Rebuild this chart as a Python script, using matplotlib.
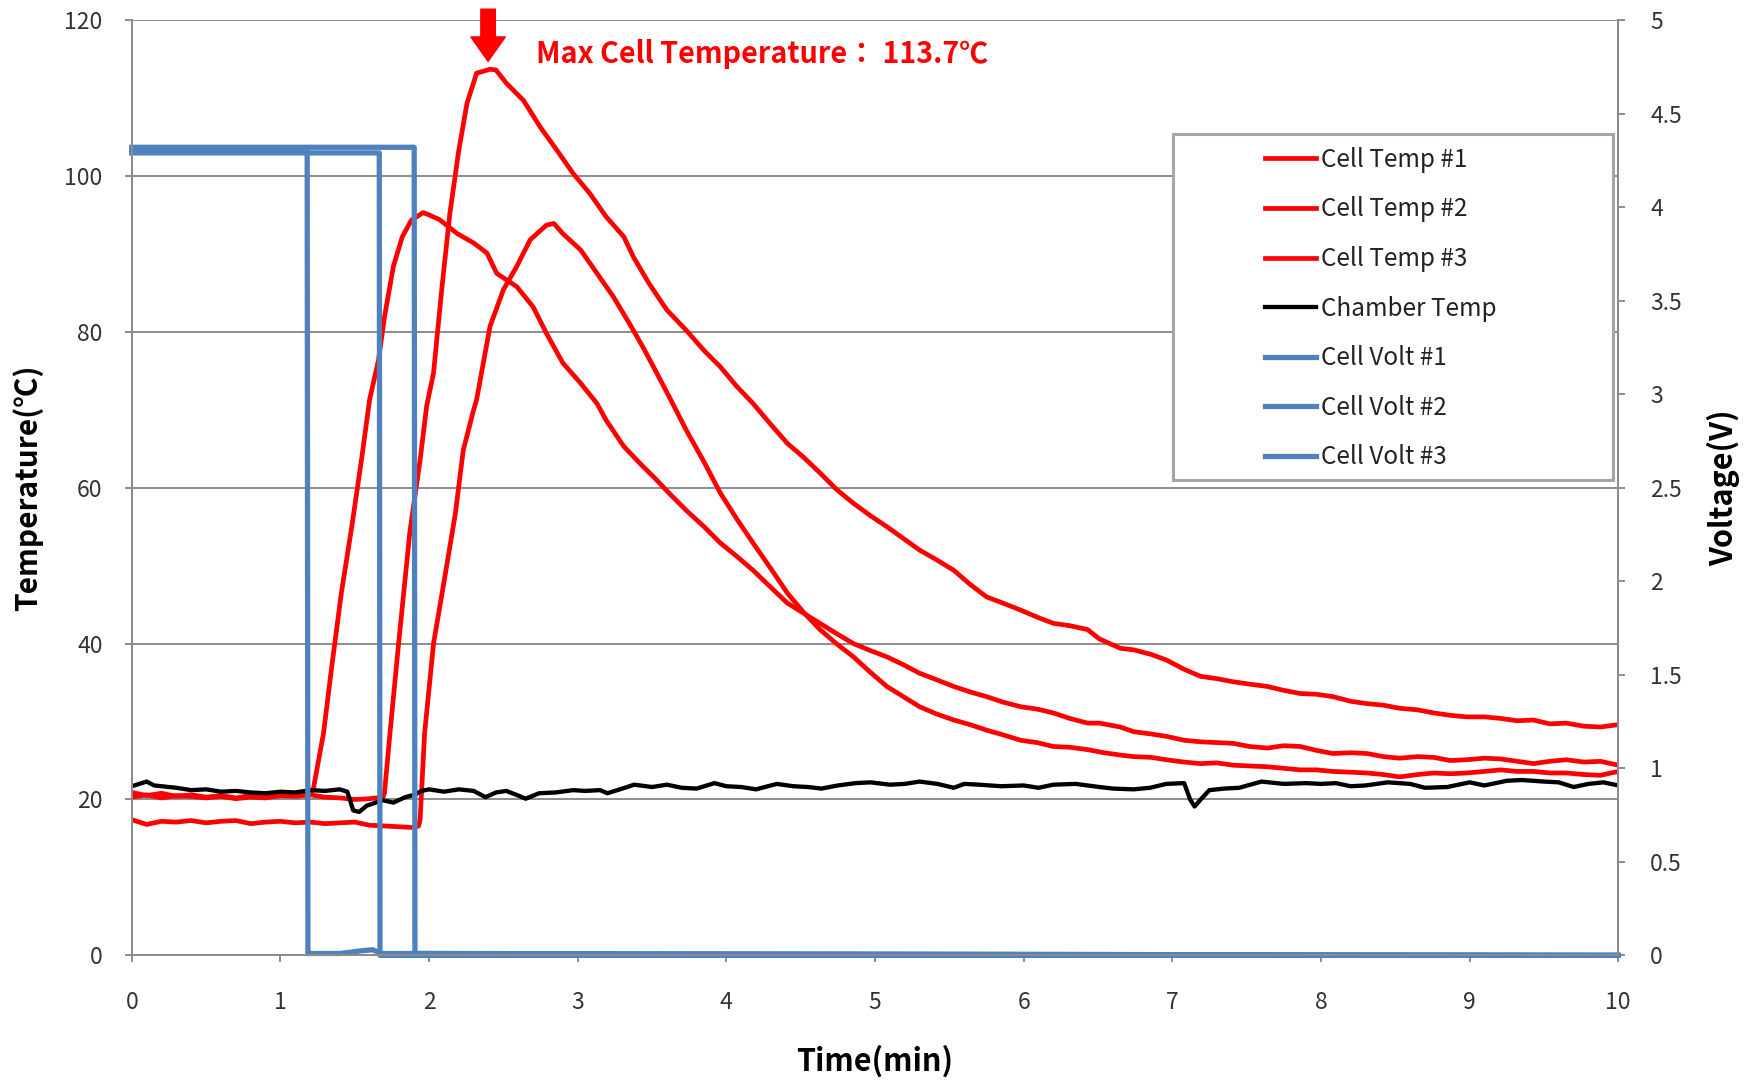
import matplotlib
matplotlib.use('Agg')
import matplotlib.pyplot as plt
from matplotlib.patches import Rectangle
from matplotlib.ticker import FuncFormatter

plt.rcParams['font.family'] = ['Noto Sans CJK KR', 'DejaVu Sans']

# ---- data (time in min, temperature in degC, voltage in V) ----
t_cell1 = [0, 0.1, 0.2, 0.3, 0.4, 0.5, 0.6, 0.7, 0.8, 0.9, 1.0, 1.1, 1.2,
           1.22, 1.29, 1.345, 1.41, 1.48, 1.547, 1.60, 1.66, 1.70, 1.76, 1.82, 1.88, 1.96,
           2.0, 2.07, 2.19, 2.30, 2.39, 2.455, 2.59, 2.70, 2.79, 2.90, 3.02, 3.13, 3.19,
           3.31, 3.42, 3.51, 3.62, 3.73, 3.85, 3.96, 4.07, 4.18, 4.30, 4.41, 4.52, 4.63,
           4.74, 4.855, 4.97, 5.08, 5.19, 5.30, 5.41, 5.53, 5.64, 5.75, 5.86, 5.98, 6.09,
           6.20, 6.31, 6.43, 6.51, 6.65, 6.74, 6.86, 6.96, 7.08, 7.19, 7.30, 7.41, 7.52,
           7.64, 7.75, 7.86, 7.97, 8.08, 8.20, 8.31, 8.42, 8.53, 8.65, 8.76, 8.87, 8.98,
           9.10, 9.21, 9.32, 9.43, 9.54, 9.65, 9.77, 9.88, 10.0]
cell1 = [20.9, 20.5, 20.8, 20.4, 20.6, 20.3, 20.5, 20.2, 20.5, 20.4, 20.6, 20.8, 20.9,
         21.2, 28.5, 37.0, 46.5, 55.0, 63.8, 71.3, 76.4, 81.9, 88.4, 92.2, 94.3, 95.3,
         95.0, 94.4, 92.6, 91.4, 90.1, 87.5, 85.8, 83.2, 79.8, 76.0, 73.4, 70.8, 68.7,
         65.3, 63.1, 61.4, 59.2, 57.1, 55.0, 52.9, 51.2, 49.4, 47.2, 45.2, 43.9, 42.6,
         41.3, 40.0, 39.1, 38.3, 37.3, 36.2, 35.4, 34.5, 33.8, 33.2, 32.5, 31.9, 31.6,
         31.1, 30.4, 29.8, 29.8, 29.3, 28.7, 28.4, 28.1, 27.6, 27.4, 27.3, 27.2, 26.8,
         26.6, 26.9, 26.8, 26.3, 25.9, 26.0, 25.9, 25.5, 25.3, 25.5, 25.4, 25.0, 25.1,
         25.3, 25.2, 24.9, 24.6, 24.9, 25.1, 24.8, 24.9, 24.4]

t_cell2 = [0, 0.1, 0.2, 0.3, 0.4, 0.5, 0.6, 0.7, 0.8, 0.9, 1.0, 1.1, 1.2, 1.3, 1.4, 1.5,
           1.6, 1.69, 1.70, 1.737, 1.793, 1.87, 1.94, 1.984, 2.03, 2.085, 2.14, 2.20,
           2.255, 2.32, 2.36, 2.41, 2.45, 2.52, 2.635, 2.747, 2.86, 2.97, 3.08, 3.19,
           3.31, 3.375, 3.48, 3.60, 3.73, 3.85, 3.96, 4.07, 4.18, 4.30, 4.41, 4.52, 4.63,
           4.74, 4.855, 4.97, 5.08, 5.19, 5.30, 5.41, 5.53, 5.64, 5.75, 5.86, 5.98, 6.09,
           6.20, 6.31, 6.43, 6.51, 6.65, 6.74, 6.86, 6.96, 7.08, 7.19, 7.30, 7.41, 7.52,
           7.64, 7.75, 7.86, 7.97, 8.08, 8.20, 8.31, 8.42, 8.53, 8.65, 8.76, 8.87, 8.98,
           9.10, 9.21, 9.32, 9.43, 9.54, 9.65, 9.77, 9.88, 10.0]
cell2 = [20.3, 20.6, 20.2, 20.5, 20.4, 20.2, 20.4, 20.1, 20.3, 20.2, 20.5, 20.4, 20.6,
         20.3, 20.2, 20.0, 20.1, 20.3, 20.8, 28.5, 39.6, 54.2, 63.6, 70.5, 74.7, 85.4,
         95.2, 103.3, 109.3, 113.2, 113.4, 113.7, 113.6, 111.9, 109.7, 106.3, 103.3,
         100.3, 97.8, 94.8, 92.2, 89.6, 86.2, 82.8, 80.2, 77.6, 75.5, 73.0, 70.8, 68.1,
         65.7, 63.9, 61.9, 59.8, 58.0, 56.4, 55.0, 53.5, 52.0, 50.8, 49.4, 47.6, 46.0,
         45.2, 44.3, 43.4, 42.6, 42.3, 41.8, 40.6, 39.4, 39.2, 38.6, 37.9, 36.7, 35.8,
         35.5, 35.1, 34.8, 34.5, 34.0, 33.6, 33.5, 33.2, 32.6, 32.3, 32.1, 31.7, 31.5,
         31.1, 30.8, 30.6, 30.6, 30.4, 30.1, 30.2, 29.7, 29.8, 29.4, 29.3, 29.6]

t_cell3 = [0, 0.1, 0.2, 0.3, 0.4, 0.5, 0.6, 0.7, 0.8, 0.9, 1.0, 1.1, 1.2, 1.3, 1.4, 1.5,
           1.6, 1.7, 1.8, 1.9, 1.93, 1.94, 1.97, 2.03, 2.11, 2.177, 2.23, 2.30, 2.32, 2.41,
           2.50, 2.59, 2.68, 2.79, 2.84, 2.90, 3.02, 3.13, 3.24, 3.35, 3.44, 3.51, 3.62,
           3.73, 3.85, 3.96, 4.07, 4.18, 4.30, 4.41, 4.52, 4.63, 4.74, 4.855, 4.97, 5.08,
           5.19, 5.30, 5.41, 5.53, 5.64, 5.75, 5.86, 5.98, 6.09, 6.20, 6.31, 6.43, 6.54,
           6.65, 6.74, 6.86, 6.96, 7.08, 7.19, 7.30, 7.41, 7.52, 7.64, 7.75, 7.86, 7.97,
           8.08, 8.20, 8.31, 8.42, 8.53, 8.65, 8.76, 8.87, 8.98, 9.10, 9.21, 9.32, 9.43,
           9.54, 9.65, 9.77, 9.88, 10.0]
cell3 = [17.4, 16.8, 17.2, 17.1, 17.3, 17.0, 17.2, 17.3, 16.9, 17.1, 17.2, 17.0, 17.1,
         16.9, 17.0, 17.1, 16.7, 16.6, 16.5, 16.4, 16.6, 17.5, 28.5, 40.0, 49.0, 56.7,
         64.8, 70.0, 71.3, 80.7, 85.4, 88.4, 91.8, 93.7, 93.9, 92.6, 90.5, 87.5, 84.5,
         81.0, 78.0, 75.5, 71.5, 67.4, 63.3, 59.3, 56.0, 52.9, 49.6, 46.5, 44.0, 41.8,
         40.0, 38.3, 36.3, 34.5, 33.2, 31.9, 31.0, 30.2, 29.6, 28.9, 28.3, 27.6, 27.3,
         26.8, 26.7, 26.4, 26.0, 25.7, 25.5, 25.4, 25.1, 24.8, 24.6, 24.7, 24.4, 24.3,
         24.2, 24.0, 23.8, 23.8, 23.6, 23.5, 23.4, 23.2, 22.9, 23.2, 23.4, 23.3, 23.4,
         23.6, 23.8, 23.6, 23.6, 23.4, 23.4, 23.2, 23.1, 23.6]

t_chamber = [0.0, 0.05, 0.1, 0.15, 0.2, 0.3, 0.4, 0.5, 0.6, 0.7, 0.8, 0.9, 1.0, 1.1, 1.2,
             1.3, 1.4, 1.45, 1.49, 1.53, 1.58, 1.64, 1.69, 1.76, 1.84, 1.9, 1.95, 2.0,
             2.1, 2.2, 2.3, 2.38, 2.45, 2.52, 2.6, 2.65, 2.74, 2.85, 2.97, 3.05, 3.15,
             3.2, 3.3, 3.38, 3.5, 3.6, 3.7, 3.8, 3.92, 4.0, 4.1, 4.2, 4.34, 4.45, 4.55,
             4.64, 4.75, 4.87, 4.97, 5.1, 5.2, 5.3, 5.42, 5.53, 5.6, 5.7, 5.85, 6.0, 6.1,
             6.2, 6.35, 6.51, 6.6, 6.74, 6.85, 6.96, 7.08, 7.12, 7.15, 7.2, 7.25, 7.35,
             7.45, 7.6, 7.75, 7.9, 8.0, 8.1, 8.2, 8.3, 8.45, 8.6, 8.7, 8.85, 9.0, 9.1,
             9.25, 9.35, 9.5, 9.6, 9.7, 9.8, 9.9, 10.0]
chamber = [21.7, 22.0, 22.3, 21.8, 21.7, 21.5, 21.2, 21.3, 21.0, 21.1, 20.9, 20.8, 21.0,
           20.9, 21.2, 21.1, 21.3, 21.0, 18.6, 18.4, 19.2, 19.6, 19.9, 19.6, 20.3, 20.6,
           21.1, 21.3, 21.0, 21.3, 21.1, 20.3, 20.9, 21.1, 20.5, 20.1, 20.8, 20.9, 21.2,
           21.1, 21.2, 20.8, 21.4, 21.9, 21.6, 21.9, 21.5, 21.4, 22.1, 21.7, 21.6, 21.3,
           22.0, 21.7, 21.6, 21.4, 21.8, 22.1, 22.2, 21.9, 22.0, 22.3, 22.0, 21.5, 22.0,
           21.9, 21.7, 21.8, 21.5, 21.9, 22.0, 21.6, 21.4, 21.3, 21.5, 22.0, 22.1, 20.0,
           19.1, 20.2, 21.2, 21.4, 21.5, 22.3, 22.0, 22.1, 22.0, 22.1, 21.7, 21.8, 22.2,
           22.0, 21.5, 21.6, 22.2, 21.8, 22.4, 22.5, 22.3, 22.2, 21.6, 22.0, 22.2, 21.8]

t_volt1 = [0, 1.18, 1.185, 1.4, 1.55, 1.62, 1.68, 2.0, 10.0]
volt1 = [4.30, 4.30, 0.01, 0.01, 0.025, 0.03, 0.01, 0.01, 0.0]
t_volt2 = [0, 1.665, 1.67, 10.0]
volt2 = [4.29, 4.29, 0.0, 0.0]
t_volt3 = [0, 1.90, 1.905, 10.0]
volt3 = [4.32, 4.32, 0.01, 0.0]

temp_ticks = [0, 20, 40, 60, 80, 100, 120]
volt_ticks = [0, 0.5, 1, 1.5, 2, 2.5, 3, 3.5, 4, 4.5, 5]
time_ticks = list(range(0, 11))

red = '#FF0000'
blue = '#4F81BD'
gray = '#8C8C8C'
txt = '#333333'

fig, ax = plt.subplots(figsize=(17.5, 10.8), dpi=100)
fig.subplots_adjust(left=0.0753, right=0.9247, top=0.9814, bottom=0.1154)
ax2 = ax.twinx()

h1, = ax.plot(t_cell1, cell1, color=red, lw=3.4, label='Cell Temp #1')
h2, = ax.plot(t_cell2, cell2, color=red, lw=3.4, label='Cell Temp #2')
h3, = ax.plot(t_cell3, cell3, color=red, lw=3.4, label='Cell Temp #3')
h4, = ax.plot(t_chamber, chamber, color='black', lw=3.1, label='Chamber Temp')
h5, = ax2.plot(t_volt1, volt1, color=blue, lw=3.8, label='Cell Volt #1', clip_on=False)
h6, = ax2.plot(t_volt2, volt2, color=blue, lw=3.8, label='Cell Volt #2', clip_on=False)
h7, = ax2.plot(t_volt3, volt3, color=blue, lw=3.8, label='Cell Volt #3', clip_on=False)

ax.set_xlim(0, 10)
ax.set_ylim(0, 120)
ax2.set_ylim(0, 5)
ax.set_xticks(time_ticks)
ax.set_yticks(temp_ticks)
ax2.set_yticks(volt_ticks)
ax2.yaxis.set_major_formatter(FuncFormatter(lambda v, p: '%g' % v))

ax.set_axisbelow(True)
ax.grid(axis='y', color=gray, lw=1.4)
ax.grid(axis='x', visible=False)

for a in (ax, ax2):
    for s in a.spines.values():
        s.set_color(gray)
        s.set_linewidth(1.4)
    a.spines['top'].set_visible(False)

ax.tick_params(axis='y', direction='out', length=5, width=1.4, color=gray,
               labelsize=16.5, labelcolor=txt, pad=16)
ax.tick_params(axis='x', direction='out', length=5, width=1.4, color=gray,
               labelsize=16.5, labelcolor=txt, pad=21)
ax2.tick_params(axis='y', direction='out', length=5, width=1.4, color=gray,
                labelsize=16.5, labelcolor=txt, pad=18)

ax.set_xlabel('Time(min)', fontsize=22, fontweight='bold', va='center')
ax.xaxis.set_label_coords(0.5, -0.113)
ax.set_ylabel('Temperature(℃)', fontsize=21.5, fontweight='bold', va='center')
ax.yaxis.set_label_coords(-0.07, 0.5)
ax2.set_ylabel('Voltage(V)', fontsize=22, fontweight='bold', va='center', rotation=90)
ax2.yaxis.set_label_coords(1.071, 0.5)

# max temperature marker
ax.annotate('', xy=(2.397, 114.7), xytext=(2.397, 121.4), annotation_clip=False,
            arrowprops=dict(arrowstyle='simple,head_length=0.88,head_width=1.24,tail_width=0.52',
                            mutation_scale=20, color=red, shrinkA=0, shrinkB=0))
ax.text(2.717, 115.6, 'Max Cell Temperature： 113.7℃', color=red, fontsize=20.7,
        fontweight='bold', ha='left', va='center')

# legend box
box = Rectangle((0.7005, 0.5083), 0.2959, 0.3699, transform=ax2.transAxes,
                facecolor='white', edgecolor='#A6A6A6', lw=2.2, zorder=5)
ax2.add_patch(box)
leg = ax2.legend(handles=[h1, h2, h3, h4, h5, h6, h7], loc='center',
                 bbox_to_anchor=(0.8405, 0.6915), frameon=False, fontsize=17.5,
                 handlelength=2.1, handletextpad=0.2, labelspacing=0.97)
leg.set_zorder(6)
for tx in leg.get_texts():
    tx.set_color('#222222')

fig.savefig('out.png', dpi=100, facecolor='white')
